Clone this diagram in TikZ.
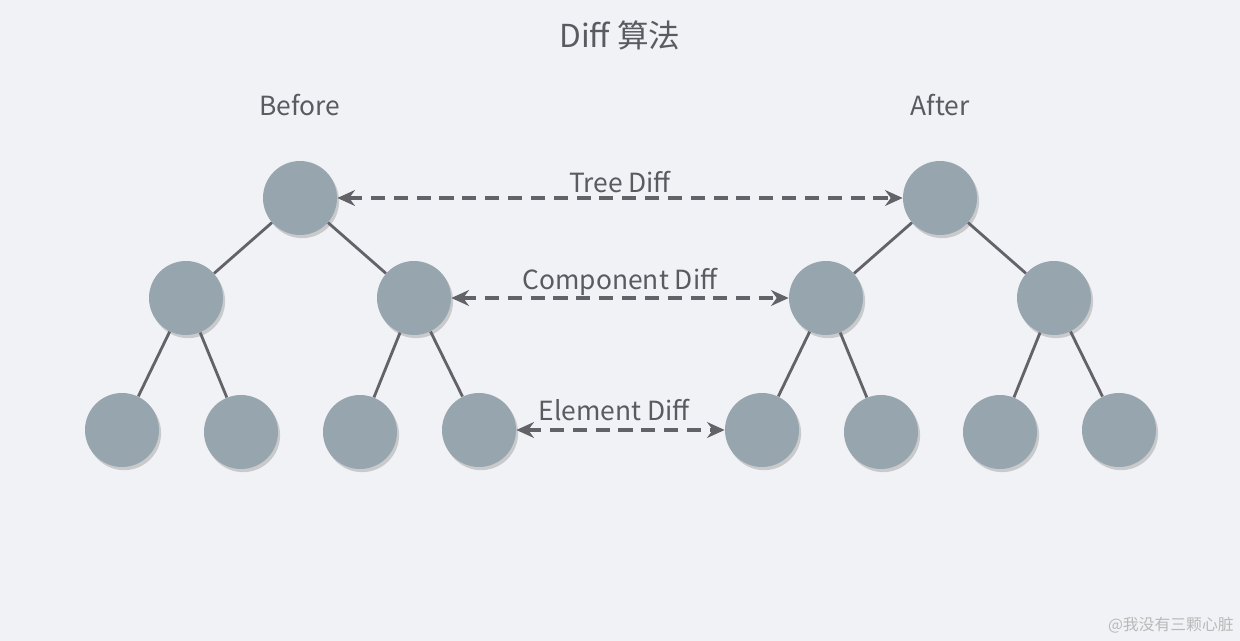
\documentclass[tikz,border=0pt]{standalone}
\usepackage{fontspec}
\setmainfont{Noto Sans CJK SC}
\usetikzlibrary{arrows.meta,shadows}
\definecolor{bgcol}{HTML}{F0F2F5}
\definecolor{nodecol}{HTML}{97A6AE}
\definecolor{linecol}{HTML}{636268}
\definecolor{textcol}{HTML}{5A5A60}
\tikzset{
  treenode/.style={circle, fill=nodecol, minimum size=74\unit, inner sep=0pt,
    drop shadow={shadow xshift=1.2pt, shadow yshift=-1.8pt, opacity=0.35}},
  edge/.style={draw=linecol, line width=1.6pt},
  diffarrow/.style={draw=linecol, line width=2pt, dash pattern=on 8pt off 5pt,
    {Stealth[length=10pt,width=9pt]}-{Stealth[length=10pt,width=9pt]}},
  label/.style={text=textcol, font=\fontsize{15}{18}\selectfont}
}
\newlength{\unit}
\setlength{\unit}{0.02cm}
\begin{document}
\begin{tikzpicture}[x=0.02cm, y=-0.02cm]
  \fill[bgcol] (0,0) rectangle (1240,641);
  \useasboundingbox (0,0) rectangle (1240,641);
  % titles
  \node[label, font=\fontsize{18}{22}\selectfont] (title) at (620,35) {Diff 算法};
  \node[label] (before) at (300,105) {Before};
  \node[label] (after) at (940,105) {After};
  % before tree
  \node[treenode] (b) at (300,198) {};
  \node[treenode] (bl) at (186,298) {};
  \node[treenode] (br) at (414,298) {};
  \node[treenode] (bll) at (122,430) {};
  \node[treenode] (blr) at (241,432) {};
  \node[treenode] (brl) at (360,432) {};
  \node[treenode] (brr) at (479,430) {};
  % after tree
  \node[treenode] (a) at (940,198) {};
  \node[treenode] (al) at (826,298) {};
  \node[treenode] (ar) at (1054,298) {};
  \node[treenode] (all) at (762,430) {};
  \node[treenode] (alr) at (881,432) {};
  \node[treenode] (arl) at (1000,432) {};
  \node[treenode] (arr) at (1119,430) {};
  % edges
  \foreach \p/\c in {b/bl, b/br, bl/bll, bl/blr, br/brl, br/brr,
                     a/al, a/ar, al/all, al/alr, ar/arl, ar/arr}
    \path[edge] (\p) -- (\c);
  % diff arrows
  \path[diffarrow] (b) -- (a);
  \path[diffarrow] (br) -- (al);
  \path[diffarrow] (brr) -- (all);
  \node[label] (tree) at (620,182) {Tree Diff};
  \node[label] (comp) at (620,282) {Component Diff};
  \node[label] (elem) at (614,410) {Element Diff};
  % watermark
  \node[text=gray!55, font=\fontsize{9}{11}\selectfont, anchor=east, inner sep=0pt] (mark) at (1234,625) {@我没有三颗心脏};
\end{tikzpicture}
\end{document}
